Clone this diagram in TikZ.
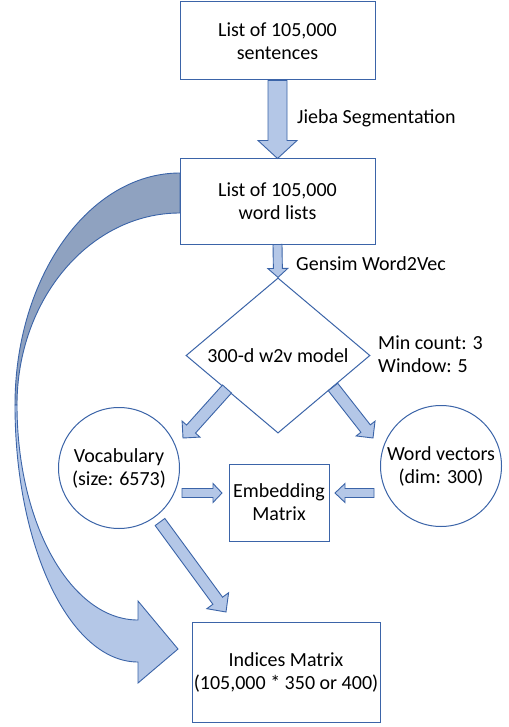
\documentclass[tikz,border=0pt]{standalone}
\usepackage{fontspec}
\setmainfont{Carlito}
\usetikzlibrary{calc,shapes.geometric}
\definecolor{edge}{HTML}{3B64A8}
\definecolor{afill}{HTML}{B4C7E7}
\definecolor{dfill}{HTML}{8FA2C0}
% block arrow: from, to, half shaft, half head, head length
\newcommand\blockarr[5]{%
  \coordinate (hb) at ($(#2)!#5!(#1)$);
  \draw[barrow] ($(#1)!#3!-90:(#2)$) -- ($(hb)!#3!90:(#1)$) -- ($(hb)!#4!90:(#1)$) -- (#2)
     -- ($(hb)!#4!-90:(#1)$) -- ($(hb)!#3!-90:(#1)$) -- ($(#1)!#3!90:(#2)$) -- cycle;}
\begin{document}
\begin{tikzpicture}[x=1pt,y=-1pt,
  every node/.style={font=\fontsize{20}{23}\selectfont},
  box/.style={draw=edge, line width=1pt, fill=white, align=center, inner sep=0pt},
  roundbox/.style={draw=edge, line width=1pt, fill=white, align=center, circle, inner sep=0pt, minimum size=121pt},
  barrow/.style={fill=afill, draw=edge, line width=0.9pt, line join=miter},
  band/.style={draw=edge, line width=0.9pt, line join=miter},
  lbl/.style={anchor=west, align=left, inner sep=0pt}]
\useasboundingbox (0,0) rectangle (508,727);
\fill[white] (0,0) rectangle (508,727);

% curved arrow (back band, then front band with head)
\draw[band, fill=dfill] (180,173) .. controls (89,173) and (15,277) .. (15,405)
  -- (17,405) .. controls (17,299) and (90,213) .. (180,213) -- cycle;
\draw[band, fill=afill] (15,405) .. controls (15,547) and (70,662) .. (138,662)
  -- (138,683) -- (178,649) -- (138,601) -- (138,620)
  .. controls (71,620) and (17,524) .. (17,405) -- cycle;

% nodes
\node[box, minimum width=195pt, minimum height=78pt] (b1) at (277.5,41) {List of 105,000\\sentences};
\node[box, minimum width=195pt, minimum height=85pt] (b2) at (277.5,201.5) {List of 105,000\\word lists};
\node[draw=edge, line width=1pt, diamond, minimum width=184pt, minimum height=129pt, inner sep=0pt] (dia) at (278,355.5) {300-d w2v model};
\node[roundbox] (voc) at (119,468) {Vocabulary\\(size: 6573)};
\node[roundbox] (wv) at (441,466) {Word vectors\\(dim: 300)};
\node[box, minimum width=100pt, minimum height=77pt] (emb) at (279,502.5) {Embedding\\Matrix};
\node[box, minimum width=188pt, minimum height=100pt] (ind) at (286,672) {Indices Matrix\\(105,000 * 350 or 400)};

% labels
\node[lbl] (l1) at (297,118) {Jieba Segmentation};
\node[lbl] (l2) at (296,264) {Gensim Word2Vec};
\node[lbl] (l3) at (378,354) {Min count: 3\\Window: 5};

% connector end points
\coordinate (a3s) at (227,389);
\coordinate (a3e) at (183,438);
\coordinate (a4s) at (333,387);
\coordinate (a4e) at (373,438);
\coordinate (a5s) at (182,493);
\coordinate (a5e) at (222,493);
\coordinate (a6s) at (374,493);
\coordinate (a6e) at (335,493);
\coordinate (a7s) at (160,522);
\coordinate (a7e) at (226,612);

% block arrows
\blockarr{b1.south}{b2.north}{9.5pt}{19.5pt}{18pt}
\blockarr{b2.south}{dia.north}{4.5pt}{10pt}{9pt}
\blockarr{a3s}{a3e}{6pt}{12pt}{12pt}
\blockarr{a4s}{a4e}{6pt}{12pt}{12pt}
\blockarr{a5s}{a5e}{4.5pt}{9.5pt}{9pt}
\blockarr{a6s}{a6e}{4.5pt}{9.5pt}{10pt}
\blockarr{a7s}{a7e}{6pt}{13.5pt}{14pt}
\end{tikzpicture}
\end{document}
